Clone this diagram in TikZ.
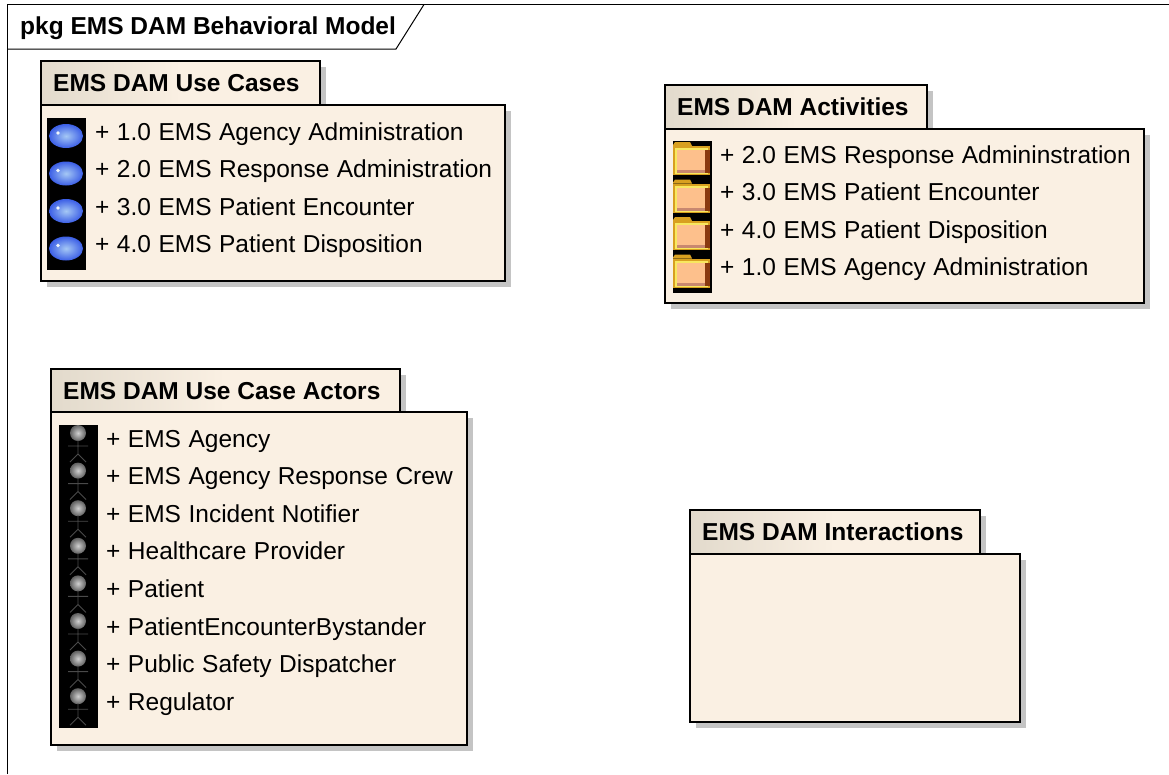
\documentclass[tikz,border=0pt]{standalone}
\usepackage{fontspec}
\setmainfont{Liberation Sans}
\newfontfamily\itemfont[WordSpace=1.1]{Liberation Sans}
\definecolor{pkgfill}{HTML}{FAF0E3}
\definecolor{tabdark}{HTML}{E2DACC}
\definecolor{shadowgrey}{HTML}{C4C4C4}
\definecolor{ucin}{HTML}{A5C8F5}
\definecolor{ucout}{HTML}{3C5FE6}
\definecolor{foldpeach}{HTML}{FDC08C}
\definecolor{foldgold}{HTML}{D8A020}
\definecolor{foldyellow}{HTML}{F8E860}
\definecolor{foldbrown}{HTML}{8A3A10}
\definecolor{foldpink}{HTML}{C88870}
\definecolor{headin}{HTML}{D0D0D0}
\definecolor{headout}{HTML}{606060}
\definecolor{limb}{HTML}{4A4A4A}
\tikzset{
  x=1pt,y=-1pt,
  frameline/.style={draw=black,line width=1pt},
  pkgline/.style={draw=black,line width=2.4pt,line join=miter},
  pkgbody/.style={pkgline,fill=pkgfill},
  pkgtab/.style={pkgline,left color=tabdark,right color=pkgfill,middle color=pkgfill,shading angle=90},
  shadowbox/.style={fill=shadowgrey,draw=none},
  titletext/.style={anchor=base west,inner sep=0pt,font=\fontsize{24.5}{28}\selectfont\bfseries},
  itemtext/.style={anchor=base west,inner sep=0pt,font=\itemfont\fontsize{24.5}{28}\selectfont},
  iconback/.style={fill=black,draw=none},
}
\newcommand{\umlpkg}[8]{%
  % name, tab right, tab top, tab bottom, body right, body bottom, left, title
  \fill[shadowbox] (#7+6,#3+6) rectangle (#2+6,#4+6);
  \fill[shadowbox] (#7+6,#4+6) rectangle (#5+6,#6+6);
  \path[pkgtab] (#7,#3) rectangle (#2,#4);
  \path[pkgbody] (#7,#4) rectangle (#5,#6);
  \node[titletext] (#1) at (#7+12,#3+30) {#8};
}
\newcommand{\usecaseicon}[2]{%
  \fill[inner color=ucin,outer color=ucout] (#1,#2) ellipse [x radius=17,y radius=12];
  \fill[white!85!ucin] (#1-8,#2-3) circle [radius=1.8];
}
\newcommand{\foldericon}[2]{%
  \fill[foldgold] (#1-19,#2-9) -- (#1-17,#2-12) -- (#1-2,#2-12) -- (#1,#2-8) -- (#1-19,#2-8) -- cycle;
  \fill[foldgold] (#1-19,#2-8) rectangle (#1+18,#2+21);
  \fill[foldyellow] (#1-17,#2-6) rectangle (#1+16,#2+20);
  \fill[foldbrown] (#1+13,#2-4) rectangle (#1+18,#2+19);
  \fill[foldpink] (#1-15,#2+16) rectangle (#1+13,#2+19);
  \fill[foldpeach] (#1-15,#2-4) rectangle (#1+13,#2+16);
}
\newcommand{\actoricon}[2]{%
  \fill[inner color=headin,outer color=headout] (#1,#2) circle [radius=8];
  \draw[limb,line width=0.9pt] (#1,#2+7) -- (#1,#2+21) (#1-10,#2+13) -- (#1+10,#2+13) (#1-8,#2+29) -- (#1,#2+21) -- (#1+8,#2+29);
}
\begin{document}
\begin{tikzpicture}
\useasboundingbox (0,0) rectangle (1169,774);
\fill[white] (0,0) rectangle (1169,774);
% frame
\draw[frameline] (7,774) -- (7,4.5) -- (1169,4.5);
\draw[frameline] (7,49) -- (396,49) -- (424,4.5);
\node[titletext] (frametitle) at (20,34) {pkg EMS DAM Behavioral Model};
% packages
\umlpkg{uctitle}{320}{61}{105}{505}{281}{41}{EMS DAM Use Cases}
\umlpkg{actitle}{927}{85}{129}{1144}{303}{665}{EMS DAM Activities}
\umlpkg{attitle}{400}{369}{412}{467}{745}{51}{EMS DAM Use Case Actors}
\umlpkg{ittitle}{980}{510}{554}{1020}{722}{690}{EMS DAM Interactions}
% use cases
\fill[iconback] (47,118) rectangle (86,270);
\foreach \i/\t in {0/+ 1.0 EMS Agency Administration,1/+ 2.0 EMS Response Administration,2/+ 3.0 EMS Patient Encounter,3/+ 4.0 EMS Patient Disposition}{
  \usecaseicon{66}{136+37.5*\i}
  \node[itemtext] (uc\i) at (95,140+37.5*\i) {\t};
}
% activities
\fill[iconback] (673,141) rectangle (712,293);
\foreach \i/\t in {0/+ 2.0 EMS Response Admininstration,1/+ 3.0 EMS Patient Encounter,2/+ 4.0 EMS Patient Disposition,3/+ 1.0 EMS Agency Administration}{
  \foldericon{692}{154+37.5*\i}
  \node[itemtext] (ac\i) at (720,163+37.5*\i) {\t};
}
% actors
\fill[iconback] (59,425) rectangle (98,728);
\foreach \i/\t in {0/+ EMS Agency,1/+ EMS Agency Response Crew,2/+ EMS Incident Notifier,3/+ Healthcare Provider,4/+ Patient,5/+ PatientEncounterBystander,6/+ Public Safety Dispatcher,7/+ Regulator}{
  \actoricon{78}{433+37.6*\i}
  \node[itemtext] (at\i) at (106,447+37.6*\i) {\t};
}
\end{tikzpicture}
\end{document}
